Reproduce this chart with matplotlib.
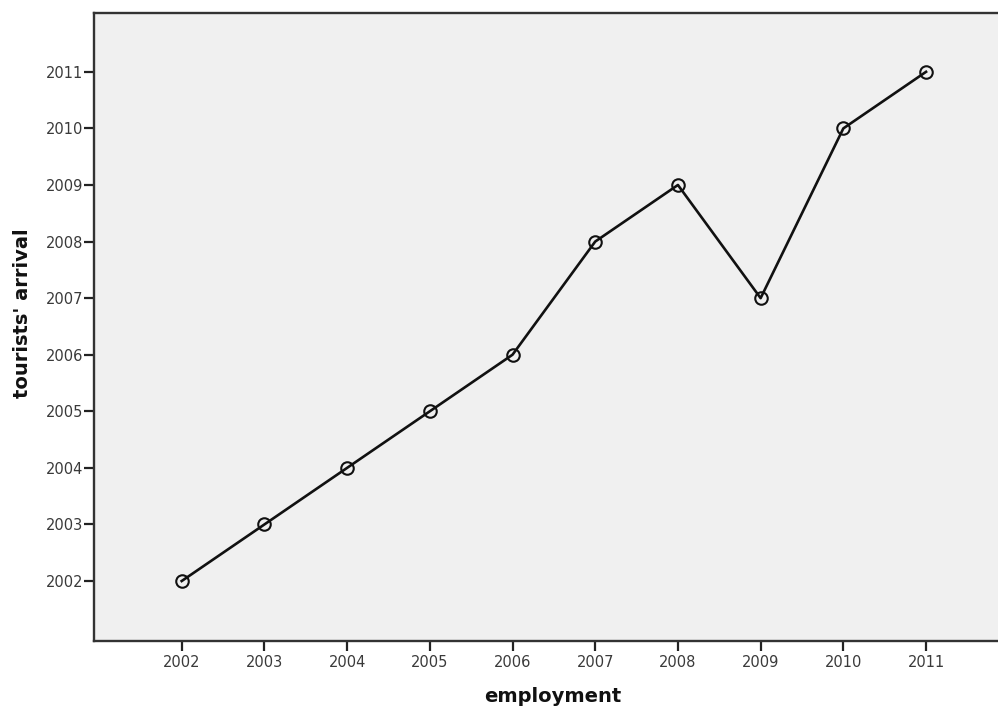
import matplotlib
matplotlib.use("Agg")
import matplotlib.pyplot as plt

plt.rcParams['font.family'] = ['DejaVu Sans']

# data
employment = [2002, 2003, 2004, 2005, 2006, 2007, 2008, 2009, 2010, 2011]
tourists_arrival = [2002, 2003, 2004, 2005, 2006, 2008, 2009, 2007, 2010, 2011]
tick_years = list(range(2002, 2012))

fig = plt.figure(figsize=(9.98, 7.09), dpi=100)
ax = fig.add_axes([0.0942, 0.0959, 0.9058, 0.8858])
ax.set_facecolor('#f0f0f0')

ax.plot(employment, tourists_arrival, color='#111111', lw=1.9,
        marker='o', ms=9, mfc='none', mec='#111111', mew=1.5)

ax.set_xlim(2000.94, 2011.87)
ax.set_ylim(2000.94, 2012.04)
ax.set_xticks(tick_years)
ax.set_yticks(tick_years)
ax.tick_params(direction='out', length=7, width=1.6, color='#222222',
               labelsize=10.5, labelcolor='#3a3a3a')
ax.tick_params(axis='y', pad=1)
ax.tick_params(axis='x', pad=3)

for s in ['left', 'bottom', 'top']:
    ax.spines[s].set_linewidth(1.7)
    ax.spines[s].set_color('#333333')
ax.spines['right'].set_visible(False)

ax.set_xlabel('employment', fontsize=14, fontweight='bold', labelpad=12,
              color='#111111')
ax.set_ylabel("tourists' arrival", fontsize=14, fontweight='bold', labelpad=10,
              color='#111111')
# labels sit a little off-centre in the original
ax.xaxis.label.set_x(0.508)
ax.yaxis.label.set_y(0.522)

fig.savefig('out.png', dpi=100)
